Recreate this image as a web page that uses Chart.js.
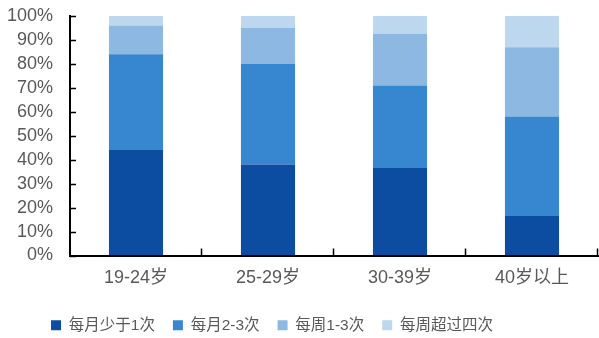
<!DOCTYPE html>
<html>
<head>
<meta charset="utf-8">
<script src="https://cdn.jsdelivr.net/npm/chart.js@4"></script>
<style>
html, body { margin: 0; padding: 0; background: #fff; }
#wrap { width: 599px; height: 338px; position: relative; }
</style>
</head>
<body>
<div id="wrap"><canvas id="chart"></canvas></div>
<script>
// 各年龄段的频次占比（%）
const categories = ['19-24岁', '25-29岁', '30-39岁', '40岁以上'];
const seriesNames = ['每月少于1次', '每月2-3次', '每周1-3次', '每周超过四次'];
const monthlyLessThanOnce = [44, 38, 36.5, 16.5];
const monthlyTwoToThree = [40, 42, 34.5, 41.5];
const weeklyOneToThree = [12, 15, 21.6, 29];
const weeklyOverFour = [4, 5, 7.4, 13];
const colors = ['#0c4da2', '#3786d0', '#8cb8e2', '#bdd7ee'];

const fontFamily = '"Liberation Sans", Arial, "Noto Sans CJK SC", sans-serif';
const textColor = '#595959';

// 刻度线画在坐标轴内侧
const innerTicks = {
    id: 'innerTicks',
    afterDatasetsDraw(chart) {
        const { ctx, chartArea, scales: { x, y } } = chart;
        ctx.save();
        ctx.strokeStyle = '#000';
        ctx.lineWidth = 1.5;
        ctx.beginPath();
        y.ticks.forEach((t, i) => {
            const py = Math.round(y.getPixelForTick(i)) + 0.5;
            ctx.moveTo(chartArea.left, py);
            ctx.lineTo(chartArea.left + 6, py);
        });
        for (let i = 0; i < categories.length; i++) {
            const px = Math.round(x.getPixelForValue(i + 0.5)) - 0.5;
            ctx.moveTo(px, chartArea.bottom);
            ctx.lineTo(px, chartArea.bottom - 7);
        }
        ctx.stroke();
        ctx.restore();
    }
};

// 图例位置微调：下移并略向左
const legendShift = {
    id: 'legendShift',
    afterLayout(chart) {
        const lg = chart.legend;
        lg.top += 5;
        lg.bottom += 5;
        lg.left -= 27;
        lg.right -= 27;
    }
};

const seriesData = [monthlyLessThanOnce, monthlyTwoToThree, weeklyOneToThree, weeklyOverFour];

new Chart(document.getElementById('chart'), {
    type: 'bar',
    data: {
        labels: categories,
        datasets: seriesNames.map((name, i) => ({
            label: name,
            data: seriesData[i],
            backgroundColor: colors[i],
            borderWidth: 0,
            categoryPercentage: 1,
            barPercentage: 0.41
        }))
    },
    options: {
        responsive: true,
        maintainAspectRatio: false,
        animation: false,
        layout: { padding: { top: 16, right: 1, bottom: 0, left: 0 } },
        scales: {
            x: {
                stacked: true,
                grid: { display: true, drawOnChartArea: false, drawTicks: false },
                border: { display: true, color: '#000', width: 2 },
                ticks: { color: textColor, font: { family: fontFamily, size: 18 }, padding: 12 },
                afterFit(scale) { scale.height = 39; }
            },
            y: {
                stacked: true,
                min: 0,
                max: 100,
                grid: { display: true, drawOnChartArea: false, drawTicks: false },
                border: { display: true, color: '#000', width: 2 },
                ticks: {
                    stepSize: 10,
                    autoSkip: false,
                    color: textColor,
                    font: { family: fontFamily, size: 18 },
                    padding: 17,
                    callback: v => v + '%'
                },
                afterFit(scale) {
                    scale.width = 70;
                    scale.paddingTop = 0;
                    scale.paddingBottom = 0;
                }
            }
        },
        plugins: {
            legend: {
                position: 'bottom',
                labels: {
                    color: textColor,
                    font: { family: fontFamily, size: 15.5 },
                    boxWidth: 10,
                    boxHeight: 10,
                    padding: 18
                }
            },
            tooltip: { enabled: false }
        }
    },
    plugins: [innerTicks, legendShift]
});
</script>
</body>
</html>
